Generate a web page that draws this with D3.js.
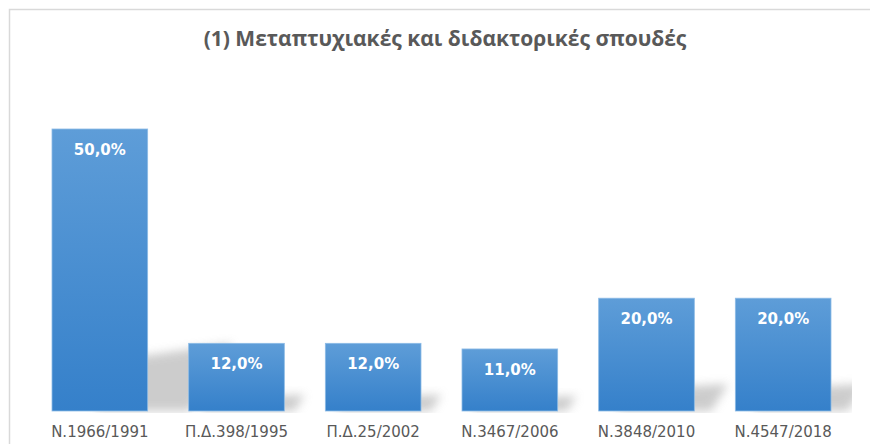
<!DOCTYPE html>
<html><head><meta charset="utf-8">
<script src="https://cdn.jsdelivr.net/npm/d3@7"></script>
<style>body{margin:0;background:#fff;}svg{display:block;}</style>
</head><body>
<script>
const title = "(1) Μεταπτυχιακές και διδακτορικές σπουδές";
const categories = ["N.1966/1991", "Π.Δ.398/1995", "Π.Δ.25/2002", "N.3467/2006", "N.3848/2010", "N.4547/2018"];
const values = [50.0, 12.0, 12.0, 11.0, 20.0, 20.0];
const valueLabels = ["50,0%", "12,0%", "12,0%", "11,0%", "20,0%", "20,0%"];

const W = 870, H = 444;
const svg = d3.select("body").append("svg").attr("width", W).attr("height", H);
const defs = svg.append("defs");
const grad = defs.append("linearGradient").attr("id", "barGrad").attr("x1", 0).attr("y1", 0).attr("x2", 0).attr("y2", 1);
grad.append("stop").attr("offset", "0%").attr("stop-color", "#5e9dd8");
grad.append("stop").attr("offset", "100%").attr("stop-color", "#3580ca");
defs.append("filter").attr("id", "blur").attr("x", "-50%").attr("y", "-50%").attr("width", "200%").attr("height", "200%")
  .append("feGaussianBlur").attr("stdDeviation", 5);
defs.append("clipPath").attr("id", "plotClip").append("rect")
  .attr("x", 31).attr("y", 60).attr("width", 821).attr("height", 353);

svg.append("rect").attr("x", 0).attr("y", 0).attr("width", W).attr("height", H).attr("fill", "#fff");
// outer border
svg.append("path").attr("d", `M9.5,${H} L9.5,9.5 L${W},9.5`).attr("fill", "none")
  .attr("stroke", "#d9d9d9").attr("stroke-width", 1.5);

svg.append("text").attr("x", 445).attr("y", 46).attr("text-anchor", "middle")
  .attr("font-family", "'Open Sans', 'Noto Sans', sans-serif").attr("font-weight", "bold")
  .attr("font-size", 21).attr("fill", "#595959").text(title);

const x = d3.scaleBand().domain(categories).range([31.5, 851.5]).paddingInner(0.3).paddingOuter(0.15);
const y = d3.scaleLinear().domain([0, 50]).range([411, 129]);
const base = y(0);

// perspective shadows
const sh = svg.append("g").attr("clip-path", "url(#plotClip)");
sh.selectAll("path").data(categories).join("path")
  .attr("d", (c, i) => {
    const h = base - y(values[i]);
    const x0 = x(c), x1 = x(c) + x.bandwidth();
    const ox = 0.15 * h, dx = 0.15 * h, dy = 0.24 * h;
    return `M${x0 + ox},${base} L${x1 + ox},${base} L${x1 + ox + dx},${base - dy} L${x0 + ox + dx},${base - dy * 0.8} Z`;
  })
  .attr("fill", "#c4c4c4").attr("opacity", 0.85).attr("filter", "url(#blur)");

svg.append("g").selectAll("rect").data(categories).join("rect")
  .attr("x", c => x(c)).attr("width", x.bandwidth())
  .attr("y", (c, i) => y(values[i])).attr("height", (c, i) => base - y(values[i]))
  .attr("fill", "url(#barGrad)").attr("stroke", "#8dbbe6").attr("stroke-width", 0.8);

svg.append("g").selectAll("text").data(categories).join("text")
  .attr("x", c => x(c) + x.bandwidth() / 2).attr("y", (c, i) => y(values[i]) + 26)
  .attr("text-anchor", "middle").attr("font-family", "'DejaVu Sans', sans-serif")
  .attr("font-weight", "bold").attr("font-size", 15).attr("fill", "#ffffff")
  .text((c, i) => valueLabels[i]);

const xAxis = d3.axisBottom(x).tickSize(0).tickPadding(0);
const ax = svg.append("g").attr("transform", `translate(0,${base})`).call(xAxis);
ax.select(".domain").remove();
ax.selectAll("text").attr("dy", null).attr("y", 26)
  .attr("font-family", "'DejaVu Sans', sans-serif").attr("font-size", 15).attr("fill", "#595959");
</script>
</body></html>
